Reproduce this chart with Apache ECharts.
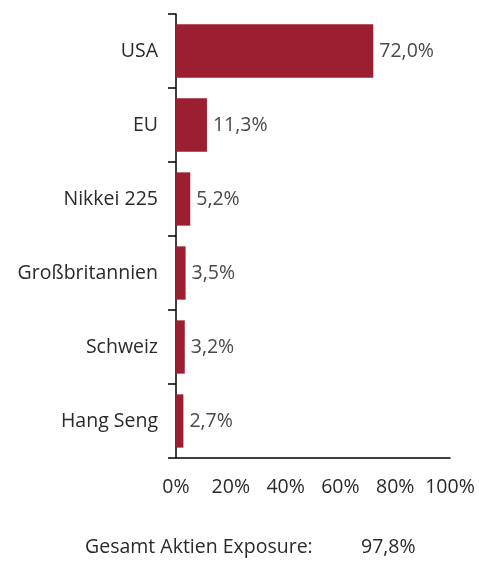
<!DOCTYPE html>
<html>
<head>
<meta charset="utf-8">
<script src="https://cdn.jsdelivr.net/npm/echarts@6/dist/echarts.min.js"></script>
<style>
  html, body { margin: 0; padding: 0; background: #fff; }
  #main { width: 479px; height: 562px; }
</style>
</head>
<body>
<div id="main"></div>
<script>
var categories = ["USA", "EU", "Nikkei 225", "Großbritannien", "Schweiz", "Hang Seng"];
var values = [72.0, 11.3, 5.2, 3.5, 3.2, 2.7];
var xTicks = [0, 20, 40, 60, 80, 100];
var totalLabel = "Gesamt Aktien Exposure:";
var totalValue = "97,8%";

var fontName = "Open Sans";
var fontSize = 19.5;
var chartDom = document.getElementById("main");
var myChart = echarts.init(chartDom);

function pct(v) {
  return v.toFixed(1).replace(".", ",") + "%";
}

var option = {
  animation: false,
  grid: { left: 176, top: 14, right: 29, bottom: 104 },
  xAxis: {
    type: "value",
    min: xTicks[0],
    max: xTicks[xTicks.length - 1],
    interval: 20,
    axisLine: { show: true, lineStyle: { color: "#000", width: 1.5 } },
    axisTick: { show: false },
    splitLine: { show: false },
    axisLabel: {
      formatter: "{value}%",
      color: "#2a2a2a",
      fontFamily: fontName,
      fontSize: fontSize,
      margin: 19
    }
  },
  yAxis: {
    type: "category",
    inverse: true,
    data: categories,
    axisLine: { show: true, lineStyle: { color: "#000", width: 1.5 } },
    axisTick: { show: true, length: 8, lineStyle: { color: "#000", width: 1.5 } },
    axisLabel: {
      color: "#2a2a2a",
      fontFamily: fontName,
      fontSize: fontSize,
      margin: 18
    }
  },
  series: [
    {
      type: "bar",
      data: values,
      barCategoryGap: "28%",
      itemStyle: { color: "#9b1f30" },
      label: {
        show: true,
        position: "right",
        distance: 6,
        color: "#4a4a4a",
        fontFamily: fontName,
        fontSize: fontSize,
        formatter: function (p) { return pct(p.value); }
      }
    }
  ],
  graphic: [
    {
      type: "text",
      left: 85,
      top: 537,
      style: { text: totalLabel, fill: "#2a2a2a", font: fontSize + "px '" + fontName + "'" }
    },
    {
      type: "text",
      left: 361,
      top: 537,
      style: { text: totalValue, fill: "#2a2a2a", font: fontSize + "px '" + fontName + "'" }
    }
  ]
};

myChart.setOption(option);
</script>
</body>
</html>
